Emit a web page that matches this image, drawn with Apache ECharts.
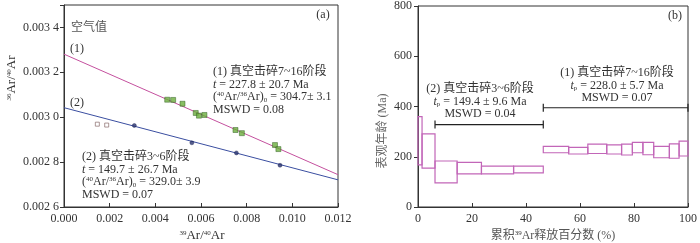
<!DOCTYPE html>
<html><head><meta charset="utf-8">
<script src="https://cdn.jsdelivr.net/npm/echarts@6/dist/echarts.min.js"></script>
<style>html,body{margin:0;padding:0;background:#fff}#c{width:700px;height:243px}</style>
</head><body><div id="c"></div>
<script>
// ---- Panel (a): isochron data ----
const stage1X = [0.00452,0.00478,0.00519,0.00577,0.00591,0.00615,0.00751,0.00779,0.00924,0.00939];
const stage1Y = [0.003078,0.003077,0.003060,0.003019,0.003007,0.003010,0.002943,0.002929,0.002876,0.002858];
const stage2X = [0.00308,0.00560,0.00755,0.00946];
const stage2Y = [0.002963,0.002886,0.002841,0.002786];
const excludedX = [0.00146,0.00187];
const excludedY = [0.002969,0.002965];
const fit1X = [0, 0.012];
const fit1Y = [0.003281, 0.002744];
const fit2X = [0, 0.012];
const fit2Y = [0.0030425, 0.002721];
const isoXTicks = ['0.000','0.002','0.004','0.006','0.008','0.010','0.012'];
const isoYTicks = ['0.002 6','0.002 8','0.003 0','0.003 2','0.003 4'];

// ---- Panel (b): age spectrum data ----
const stepEdges = [0,1.5,6.3,14.5,23.5,35.4,46.4,55.8,62.9,69.9,75.4,79.4,83.3,87.3,93.1,96.7,100];
const stepTop =    [360,291,183,178,163,163,241,237,250,247,250,257,257,241,251,262];
const stepBottom = [168,155,96,132,132,136,216,211,213,211,207,216,208,196,194,203];
const plateau2 = [6.3, 46.4, 328];
const plateau1 = [46.4, 100, 395];
const specXTicks = ['0','20','40','60','80','100'];
const specYTicks = ['0','200','400','600','800'];

const FONT = "'Liberation Serif','Noto Sans CJK SC',serif";
const TXT = '#333';
const zip = (a,b)=>a.map((v,i)=>[v,b[i]]);

const chart = echarts.init(document.getElementById('c'), null, {renderer:'canvas'});

const richBase = {
  sup:{fontSize:7, fontFamily:FONT, fill:TXT, color:TXT, verticalAlign:'top', lineHeight:13},
  sub:{fontSize:7, fontFamily:FONT, fill:TXT, color:TXT, verticalAlign:'bottom', lineHeight:13},
  it:{fontSize:12, fontFamily:FONT, fontStyle:'italic', fill:TXT, color:TXT, lineHeight:13},
  n:{fontSize:12, fontFamily:FONT, fill:TXT, color:TXT, lineHeight:13}
};
function txt(x,y,text,opts){
  opts = opts||{};
  return {type:'text', x:x, y:y, rotation:opts.rotation||0, silent:true,
    style:{text:text, fill:opts.fill||TXT, font:(opts.size||12)+'px '+FONT,
      align:opts.align||'left', verticalAlign:opts.va||'middle', lineHeight:opts.lh||13,
      rich:richBase}};
}

const stepData = stepTop.map((t,i)=>[stepEdges[i], stepEdges[i+1], stepBottom[i], t]);
const plateauData = [plateau2, plateau1];

const option = {
  animation:false,
  grid:[
    {left:64, right:362, top:5, bottom:36, show:true, borderColor:'#333', borderWidth:1, backgroundColor:'transparent'},
    {left:418, right:8, top:5, bottom:36, show:true, borderColor:'#333', borderWidth:1, backgroundColor:'transparent'}
  ],
  xAxis:[
    {gridIndex:0, type:'value', min:0, max:0.012, interval:0.002,
      axisLine:{lineStyle:{color:'#333'}}, splitLine:{show:false},
      axisTick:{inside:true, length:4, lineStyle:{color:'#333'}},
      axisLabel:{fontFamily:FONT, fontSize:12, color:TXT, margin:6,
        formatter:(v)=>{const i=Math.round(v/0.002); return Math.abs(v-i*0.002)<1e-9 ? (isoXTicks[i]||'') : '';}}},
    {gridIndex:1, type:'value', min:0, max:100, interval:20,
      axisLine:{lineStyle:{color:'#333'}}, splitLine:{show:false},
      axisTick:{inside:true, length:4, lineStyle:{color:'#333'}},
      axisLabel:{fontFamily:FONT, fontSize:12, color:TXT, margin:6,
        formatter:(v)=>specXTicks[Math.round(v/20)]}}
  ],
  yAxis:[
    {gridIndex:0, type:'value', min:0.0026, max:0.0035, interval:0.0002,
      axisLine:{lineStyle:{color:'#333'}}, splitLine:{show:false},
      axisTick:{inside:false, length:4, lineStyle:{color:'#333'}},
      axisLabel:{fontFamily:FONT, fontSize:12, color:TXT, margin:5,
        formatter:(v)=>{const k=(v-0.0026)/0.0002; const i=Math.round(k); return Math.abs(k-i)<1e-6 ? (isoYTicks[i]||'') : '';}}},
    {gridIndex:1, type:'value', min:0, max:800, interval:200,
      axisLine:{lineStyle:{color:'#333'}}, splitLine:{show:false},
      axisTick:{inside:false, length:4, lineStyle:{color:'#333'}},
      axisLabel:{fontFamily:FONT, fontSize:12, color:TXT, margin:6,
        formatter:(v)=>specYTicks[Math.round(v/200)]}}
  ],
  series:[
    {type:'line', xAxisIndex:0, yAxisIndex:0, data:zip(fit1X,fit1Y), symbol:'none',
      lineStyle:{color:'#c4509e', width:1}, z:2},
    {type:'line', xAxisIndex:0, yAxisIndex:0, data:zip(fit2X,fit2Y), symbol:'none',
      lineStyle:{color:'#3a4ea0', width:1}, z:2},
    {type:'scatter', xAxisIndex:0, yAxisIndex:0, data:zip(stage1X,stage1Y), symbol:'rect', symbolSize:5,
      itemStyle:{color:'#6aae3c', borderColor:'#2f5a20', borderWidth:0.6}, z:3},
    {type:'scatter', xAxisIndex:0, yAxisIndex:0, data:zip(stage2X,stage2Y), symbol:'circle', symbolSize:4,
      itemStyle:{color:'#2a3470', borderColor:'#1a2050', borderWidth:0.5}, z:3},
    {type:'scatter', xAxisIndex:0, yAxisIndex:0, data:zip(excludedX,excludedY), symbol:'rect', symbolSize:4,
      itemStyle:{color:'#fff', borderColor:'#7a5a5a', borderWidth:0.8}, z:3},
    {type:'custom', xAxisIndex:1, yAxisIndex:1, data:stepData,
      renderItem:(params, api)=>{
        const p0 = api.coord([api.value(0), api.value(3)]);
        const p1 = api.coord([api.value(1), api.value(2)]);
        return {type:'rect', shape:{x:p0[0], y:p0[1], width:p1[0]-p0[0], height:p1[1]-p0[1]},
          style:{fill:'none', stroke:'#c266b8', lineWidth:1.2}};
      }, z:3},
    {type:'custom', xAxisIndex:1, yAxisIndex:1, data:plateauData,
      renderItem:(params, api)=>{
        const a = api.coord([api.value(0), api.value(2)]);
        const b = api.coord([api.value(1), api.value(2)]);
        const st = {stroke:'#222', lineWidth:1.2};
        return {type:'group', children:[
          {type:'line', shape:{x1:a[0], y1:a[1], x2:b[0], y2:b[1]}, style:st},
          {type:'line', shape:{x1:a[0], y1:a[1]-4, x2:a[0], y2:a[1]+4}, style:st},
          {type:'line', shape:{x1:b[0], y1:b[1]-4, x2:b[0], y2:b[1]+4}, style:st}
        ]};
      }, z:4}
  ],
  graphic:[
    txt(12, 78, '{sup|36}Ar/{sup|40}Ar', {rotation:Math.PI/2, align:'center', size:13}),
    txt(202, 236, '{sup|39}Ar/{sup|40}Ar', {align:'center', size:13}),
    txt(553, 236, '累积{sup|39}Ar释放百分数 (%)', {align:'center', fill:'#555'}),
    txt(71, 28, '空气值', {fill:'#555'}),
    txt(70, 49, '(1)'),
    txt(70, 103, '(2)'),
    txt(323, 15, '(a)', {align:'center'}),
    txt(213, 72, '(1) 真空击碎7~16阶段'),
    txt(213, 84.5, '{it|t} = 227.8 ± 20.7 Ma'),
    txt(213, 97, '({sup|40}Ar/{sup|36}Ar){sub|0} = 304.7± 3.1'),
    txt(213, 109.5, 'MSWD = 0.08'),
    txt(82, 157, '(2) 真空击碎3~6阶段'),
    txt(82, 169.5, '{it|t} = 149.7 ± 26.7 Ma'),
    txt(82, 182, '({sup|40}Ar/{sup|36}Ar){sub|0} = 329.0± 3.9'),
    txt(82, 194.5, 'MSWD = 0.07'),
    txt(383, 131, '表观年龄 (Ma)', {rotation:Math.PI/2, align:'center', fill:'#666'}),
    txt(675, 16, '(b)', {align:'center'}),
    txt(480, 88.5, '(2) 真空击碎3~6阶段', {align:'center'}),
    txt(480, 101.5, '{it|t}{sub|p} = 149.4 ± 9.6 Ma', {align:'center'}),
    txt(480, 113.5, 'MSWD = 0.04', {align:'center'}),
    txt(617, 73, '(1) 真空击碎7~16阶段', {align:'center'}),
    txt(617, 85.5, '{it|t}{sub|p} = 228.0 ± 5.7 Ma', {align:'center'}),
    txt(617, 97.5, 'MSWD = 0.07', {align:'center'})
  ]
};
chart.setOption(option);
</script></body></html>
